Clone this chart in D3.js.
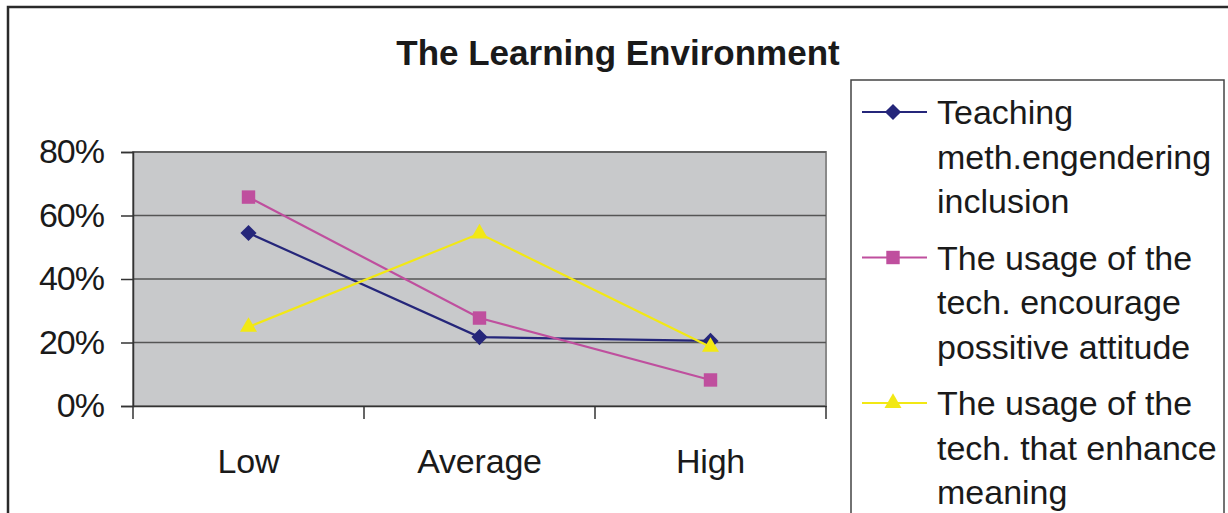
<!DOCTYPE html>
<html>
<head>
<meta charset="utf-8">
<script src="https://cdn.jsdelivr.net/npm/d3@7"></script>
<style>
  body { margin: 0; background: #fff; }
  svg text { font-family: "Liberation Sans", Arial, sans-serif; fill: #1a1a1a; }
</style>
</head>
<body>
<div id="chart"></div>
<script>
// Chart data
const categories = ["Low", "Average", "High"];
const seriesNames = [
    ["Teaching", "meth.engendering", "inclusion"],
    ["The usage of the", "tech. encourage", "possitive attitude"],
    ["The usage of the", "tech. that enhance", "meaning"]
];
const teachingValues = [0.545, 0.217, 0.205];
const attitudeValues = [0.658, 0.277, 0.082];
const meaningValues = [0.249, 0.543, 0.186];
const yTicks = [0, 0.2, 0.4, 0.6, 0.8];

const seriesColors = ["#25267a", "#bf4f9e", "#f2e814"];
// diamond is a square turned 45 degrees
const seriesSymbols = [d3.symbolSquare, d3.symbolSquare, d3.symbolTriangle];
const seriesRotate = [45, 0, 0];
const seriesSizes = [130, 180, 125];

const series = [teachingValues, attitudeValues, meaningValues].map((values, i) => ({
    name: seriesNames[i],
    values: values,
    color: seriesColors[i],
    symbol: seriesSymbols[i],
    rotate: seriesRotate[i],
    size: seriesSizes[i]
}));

const width = 1228;
const height = 513;
const margin = { top: 152, right: 402, bottom: 107, left: 133 };

const svg = d3.select("#chart")
    .append("svg")
    .attr("width", width)
    .attr("height", height);

// Outer chart frame
svg.append("rect")
    .attr("x", 8).attr("y", 7)
    .attr("width", width + 20).attr("height", height + 20)
    .attr("fill", "none")
    .attr("stroke", "#2a2a2a")
    .attr("stroke-width", 2.5);

// Title
svg.append("text")
    .attr("x", 618).attr("y", 65)
    .attr("text-anchor", "middle")
    .attr("font-size", "35px")
    .attr("font-weight", "bold")
    .text("The Learning Environment");

// Scales
const x = d3.scaleBand()
    .domain(categories)
    .range([margin.left, width - margin.right]);

const y = d3.scaleLinear()
    .domain([0, 0.8])
    .range([height - margin.bottom, margin.top]);

// Plot background
svg.append("rect")
    .attr("x", margin.left)
    .attr("y", margin.top)
    .attr("width", width - margin.left - margin.right)
    .attr("height", height - margin.top - margin.bottom)
    .attr("fill", "#c8c9cb")
    .attr("stroke", "#8a8a8a")
    .attr("stroke-width", 2);

// Gridlines
svg.append("g")
    .selectAll("line")
    .data(yTicks.slice(1))
    .enter()
    .append("line")
    .attr("x1", margin.left)
    .attr("x2", width - margin.right)
    .attr("y1", d => y(d))
    .attr("y2", d => y(d))
    .attr("stroke", "#555")
    .attr("stroke-width", 1.5);

// Y axis
const yAxis = svg.append("g")
    .attr("transform", `translate(${margin.left},0)`)
    .call(d3.axisLeft(y)
        .tickValues(yTicks)
        .tickFormat(d3.format(".0%"))
        .tickSize(12)
        .tickPadding(17));
yAxis.select(".domain").attr("stroke", "#333").attr("stroke-width", 1.5);
yAxis.selectAll(".tick line").attr("stroke", "#333").attr("stroke-width", 1.5);
yAxis.selectAll(".tick text")
    .attr("font-size", "34px")
    .attr("letter-spacing", "-1px")
    .attr("fill", "#1a1a1a");

// X axis
const xAxis = svg.append("g")
    .attr("transform", `translate(0,${height - margin.bottom})`)
    .call(d3.axisBottom(x).tickSize(0).tickPadding(43));
xAxis.select(".domain").attr("stroke", "#333").attr("stroke-width", 1.5);
xAxis.selectAll(".tick text")
    .attr("font-size", "34px")
    .attr("letter-spacing", "-0.2px")
    .attr("fill", "#1a1a1a");

// Category boundary ticks
const boundaries = categories.map(c => x(c)).concat([x.range()[1]]);
svg.append("g")
    .selectAll("line")
    .data(boundaries)
    .enter()
    .append("line")
    .attr("x1", d => d).attr("x2", d => d)
    .attr("y1", height - margin.bottom)
    .attr("y2", height - margin.bottom + 13)
    .attr("stroke", "#333")
    .attr("stroke-width", 1.5);

const cx = d => x(d) + x.bandwidth() / 2;

// Lines
const line = d3.line()
    .x((d, i) => cx(categories[i]))
    .y(d => y(d));

const seriesGroup = svg.append("g")
    .selectAll("g")
    .data(series)
    .enter()
    .append("g");

seriesGroup.append("path")
    .attr("d", d => line(d.values))
    .attr("fill", "none")
    .attr("stroke", d => d.color)
    .attr("stroke-width", 2.2);

seriesGroup.selectAll("path.marker")
    .data(d => d.values.map((v, i) => ({ v, i, s: d })))
    .enter()
    .append("path")
    .attr("class", "marker")
    .attr("transform", d => `translate(${cx(categories[d.i])},${y(d.v)}) rotate(${d.s.rotate})`)
    .attr("d", d => d3.symbol().type(d.s.symbol).size(d.s.size)())
    .attr("fill", d => d.s.color);

// Legend
const legend = svg.append("g");
legend.append("rect")
    .attr("x", 851).attr("y", 80)
    .attr("width", 373).attr("height", 460)
    .attr("fill", "#fff")
    .attr("stroke", "#444")
    .attr("stroke-width", 1.5);

const entry = legend.selectAll("g.entry")
    .data(series)
    .enter()
    .append("g")
    .attr("class", "entry")
    .attr("transform", (d, i) => `translate(0,${112 + i * 145.5})`);

entry.append("line")
    .attr("x1", 862).attr("x2", 927)
    .attr("stroke", d => d.color)
    .attr("stroke-width", 2.2);

entry.append("path")
    .attr("transform", d => `translate(893,0) rotate(${d.rotate})`)
    .attr("d", d => d3.symbol().type(d.symbol).size(d.size)())
    .attr("fill", d => d.color);

entry.append("text")
    .attr("x", 937)
    .attr("y", 12)
    .attr("font-size", "34px")
    .selectAll("tspan")
    .data(d => d.name)
    .enter()
    .append("tspan")
    .attr("x", 937)
    .attr("dy", (d, i) => i === 0 ? 0 : 44.5)
    .text(d => d);
</script>
</body>
</html>
